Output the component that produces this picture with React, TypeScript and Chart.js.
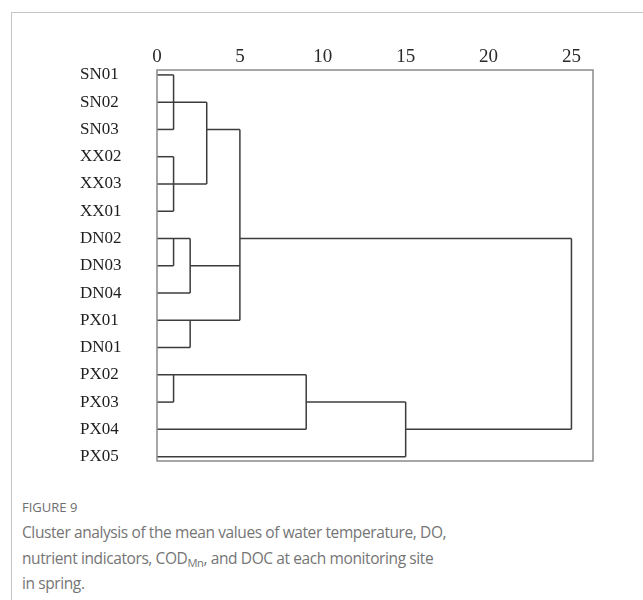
import React, { useEffect, useRef } from "react";
import { Chart, registerables } from "chart.js";

Chart.register(...registerables);

// Monitoring sites, top to bottom (row index = position in this list)
const siteLabels = [
  "SN01", "SN02", "SN03", "XX02", "XX03", "XX01",
  "DN02", "DN03", "DN04", "PX01", "DN01",
  "PX02", "PX03", "PX04", "PX05",
];

// Rescaled distance axis ticks
const distanceTicks = [0, 5, 10, 15, 20, 25];
const distanceMax = 26.3;

// Horizontal links of the dendrogram: [row, fromDistance, toDistance]
const horizontalLinks: number[][] = [
  [0, 0, 1], [1, 0, 3], [2, 0, 1], [2, 3, 5],
  [3, 0, 1], [4, 0, 3], [5, 0, 1],
  [6, 0, 2], [6, 5, 25], [7, 0, 1], [7, 2, 5], [8, 0, 2],
  [9, 0, 5], [10, 0, 2],
  [11, 0, 9], [12, 0, 1], [12, 9, 15], [13, 0, 9], [13, 15, 25], [14, 0, 15],
];

// Vertical joins of the dendrogram: [distance, fromRow, toRow]
const verticalLinks: number[][] = [
  [1, 0, 2], [1, 3, 5], [3, 1, 4], [5, 2, 9],
  [1, 6, 7], [2, 6, 8], [2, 9, 10],
  [1, 11, 12], [9, 11, 13], [15, 12, 14], [25, 6, 13],
];

const LINE_COLOR = "#3c3c3c";

const frameBox = {
  id: "frameBox",
  afterDatasetsDraw(chart: any) {
    const { ctx, chartArea } = chart;
    ctx.save();
    ctx.strokeStyle = "#8a8a8a";
    ctx.lineWidth = 1.5;
    ctx.strokeRect(chartArea.left, chartArea.top, chartArea.right - chartArea.left, chartArea.bottom - chartArea.top);
    ctx.restore();
  },
};

function Dendrogram() {
  const ref = useRef<HTMLCanvasElement | null>(null);
  useEffect(() => {
    if (!ref.current) return;
    const datasets: any[] = [];
    horizontalLinks.forEach(([row, x0, x1]) => {
      datasets.push({
        data: [{ x: x0, y: row }, { x: x1, y: row }],
        showLine: true,
        borderColor: LINE_COLOR,
        borderWidth: 1.5,
        pointRadius: 0,
        fill: false,
        clip: false,
      });
    });
    verticalLinks.forEach(([x, r0, r1]) => {
      datasets.push({
        data: [{ x, y: r0 }, { x, y: r1 }],
        showLine: true,
        borderColor: LINE_COLOR,
        borderWidth: 1.5,
        pointRadius: 0,
        fill: false,
        clip: false,
      });
    });
    const chart = new Chart(ref.current, {
      type: "scatter",
      data: { datasets },
      plugins: [frameBox],
      options: {
        animation: false,
        responsive: false,
        events: [],
        layout: { padding: { left: 80, right: 50, top: 0, bottom: 19 } },
        plugins: { legend: { display: false }, tooltip: { enabled: false } },
        scales: {
          x: {
            type: "linear",
            position: "top",
            min: 0,
            max: distanceMax,
            grid: { display: false, drawTicks: false },
            border: { display: false },
            afterBuildTicks: (s: any) => {
              s.ticks = distanceTicks.map((v) => ({ value: v }));
            },
            afterFit: (s: any) => {
              s.height = 70;
            },
            ticks: {
              padding: 2,
              color: "#2a2a2a",
              font: { family: "'Liberation Serif', serif", size: 19 },
              maxRotation: 0,
              autoSkip: false,
            },
          },
          y: {
            type: "linear",
            reverse: true,
            min: -0.18,
            max: 14.16,
            grid: { display: false, drawTicks: false },
            border: { display: false },
            afterBuildTicks: (s: any) => {
              s.ticks = siteLabels.map((_, i) => ({ value: i }));
            },
            afterFit: (s: any) => {
              s.width = 77;
            },
            ticks: {
              crossAlign: "far",
              autoSkip: false,
              color: "#1e1e1e",
              font: { family: "'Liberation Serif', serif", size: 17 },
              callback: (v: any) => siteLabels[v as number] ?? "",
            },
          },
        },
      } as any,
    });
    return () => chart.destroy();
  }, []);
  return (
    <canvas
      ref={ref}
      width={643}
      height={480}
      style={{ position: "absolute", left: 0, top: 0, width: 643, height: 480 }}
    />
  );
}

export default function App() {
  return (
    <div style={{ position: "absolute", left: 0, top: 0, width: 643, height: 600, background: "#fff", overflow: "hidden" }}>
      <div
        style={{
          position: "absolute",
          left: 11,
          top: 12,
          width: 640,
          height: 600,
          borderTop: "1px solid #c4c4c4",
          borderLeft: "1px solid #c4c4c4",
        }}
      />
      <Dendrogram />
      <div
        style={{
          position: "absolute",
          left: 22,
          top: 497,
          fontFamily: "'Open Sans', sans-serif",
          fontSize: 13,
          color: "#6e6e6e",
          lineHeight: "20px",
        }}
      >
        FIGURE 9
      </div>
      <div
        style={{
          position: "absolute",
          left: 22,
          top: 520,
          width: 610,
          fontFamily: "'Open Sans', sans-serif",
          fontSize: 15.5,
          letterSpacing: "-0.4px",
          color: "#757575",
          lineHeight: "25.5px",
        }}
      >
        <div>Cluster analysis of the mean values of water temperature, DO,</div>
        <div>
          nutrient indicators, COD<sub style={{ fontSize: "0.72em", verticalAlign: "-0.25em", lineHeight: 0 }}>Mn</sub>, and DOC at each monitoring site
        </div>
        <div>in spring.</div>
      </div>
    </div>
  );
}
